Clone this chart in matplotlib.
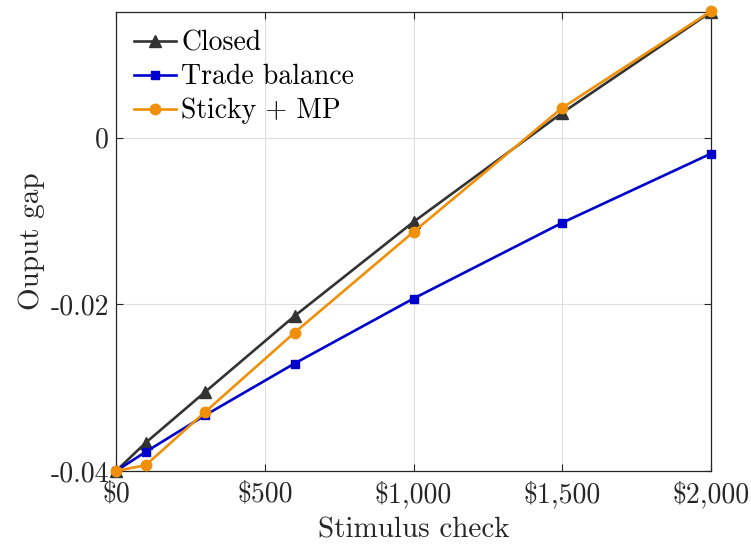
import matplotlib
matplotlib.use("Agg")
import matplotlib.pyplot as plt

# Stimulus check size ($) and output gap response for each model
checks = [0, 100, 300, 600, 1000, 1500, 2000]
closed = [-0.0400, -0.0366, -0.0305, -0.0214, -0.0101, 0.0030, 0.0151]
trade_balance = [-0.0400, -0.0377, -0.0333, -0.0271, -0.0193, -0.0102, -0.0019]
sticky_mp = [-0.0400, -0.0393, -0.0329, -0.0234, -0.0113, 0.0036, 0.0152]

x_ticks = [0, 500, 1000, 1500, 2000]
x_tick_labels = ["\\$0", "\\$500", "\\$1,000", "\\$1,500", "\\$2,000"]
y_ticks = [-0.04, -0.02, 0.0]
y_tick_labels = ["-0.04", "-0.02", "0"]

plt.rcParams["font.family"] = ["cmr10", "DejaVu Serif"]
plt.rcParams["mathtext.fontset"] = "cm"
plt.rcParams["axes.unicode_minus"] = False

fig = plt.figure(figsize=(7.51, 5.46), dpi=100)
ax = fig.add_axes([0.1545, 0.1374, 0.7922, 0.8406])

ax.plot(checks, closed, color="#333333", lw=1.9, marker="^", ms=9,
        label="Closed", clip_on=False, zorder=3)
ax.plot(checks, trade_balance, color="#0000CC", lw=1.9, marker="s", ms=6,
        label="Trade balance", clip_on=False, zorder=3)
ax.plot(checks, sticky_mp, color="#F0900A", lw=1.9, marker="o", ms=7.5,
        label="Sticky + MP", clip_on=False, zorder=4)

ax.set_xlim(0, 2000)
ax.set_ylim(-0.04, 0.0151)
ax.set_xticks(x_ticks)
ax.set_xticklabels(x_tick_labels)
ax.set_yticks(y_ticks)
ax.set_yticklabels(y_tick_labels)

ax.grid(True, color="#dfdfdf", lw=0.8)
ax.set_axisbelow(True)
ax.tick_params(direction="in", length=5, width=0.8, colors="#262626",
               labelsize=20, top=True, right=True, pad=5)
ax.tick_params(axis="x", pad=7)
for tl in ax.get_xticklabels() + ax.get_yticklabels():
    tl.set_color("#262626")
for sp in ax.spines.values():
    sp.set_edgecolor("#262626")
    sp.set_linewidth(0.9)

ax.set_xlabel("Stimulus check", fontsize=21, color="#262626", labelpad=6)
ax.set_ylabel("Ouput gap", fontsize=21, color="#262626", labelpad=4)

ax.legend(loc="upper left", frameon=False, fontsize=20, handlelength=1.5,
          handletextpad=0.2, labelspacing=0.27, borderaxespad=0.3,
          borderpad=0.35)

fig.savefig("out.png", dpi=100)
